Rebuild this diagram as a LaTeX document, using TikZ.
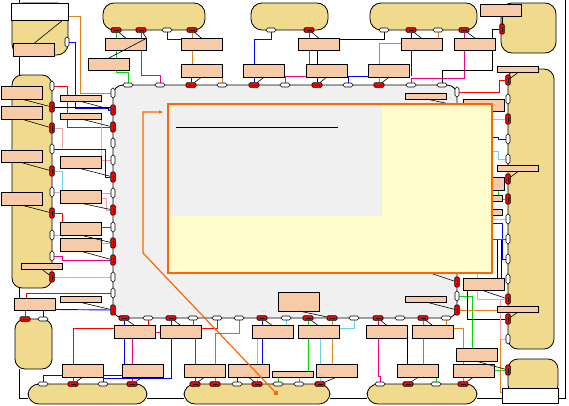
\documentclass[tikz,border=0pt]{standalone}
\usepackage{tikz}
\usetikzlibrary{positioning,calc,backgrounds}
\usetikzlibrary{arrows.meta}
\definecolor{podtan}{RGB}{240,218,142}
\definecolor{boxpeach}{RGB}{248,203,168}
\definecolor{panelgray}{RGB}{240,240,240}
\definecolor{noteyellow}{RGB}{255,253,204}
\definecolor{noteorange}{RGB}{255,102,0}
\definecolor{wireorange}{RGB}{225,130,20}
\definecolor{wirecyan}{RGB}{100,215,240}
\definecolor{wirepink}{RGB}{245,160,175}
\definecolor{wiregreen}{RGB}{0,220,0}
\tikzset{
	pod/.style={draw, fill=podtan, line width=0.8pt, rounded corners=11pt},
	panel/.style={draw, fill=panelgray, line width=0.8pt, rounded corners=10pt},
	whitecap/.style={draw, fill=white, line width=0.8pt, inner sep=0pt, outer sep=0pt},
	module/.style={draw, fill=boxpeach, line width=0.8pt, minimum width=41pt, minimum height=12.5pt, inner sep=0pt, outer sep=0pt},
	slim/.style={module, minimum height=6pt},
	wport/.style={draw, fill=white, line width=0.6pt, rounded corners=1.8pt, minimum width=10pt, minimum height=4pt, inner sep=0pt},
	wportv/.style={wport, minimum width=4pt, minimum height=10pt},
	rport/.style={draw, fill=red, line width=0.6pt, rounded corners=1pt, minimum width=10pt, minimum height=4.5pt, inner sep=0pt,
		path picture={\draw[line width=0.7pt] ([xshift=-2.5pt]path picture bounding box.center) -- ([xshift=2.5pt]path picture bounding box.center);}},
	rportv/.style={draw, fill=red, line width=0.6pt, rounded corners=1pt, minimum width=4.5pt, minimum height=10pt, inner sep=0pt,
		path picture={\draw[line width=0.7pt] ([yshift=-2.5pt]path picture bounding box.center) -- ([yshift=2.5pt]path picture bounding box.center);}},
	wire/.style={line width=0.9pt},
	wblue/.style={wire, draw=blue},
	wred/.style={wire, draw=red},
	wgreen/.style={wire, draw=wiregreen},
	wmag/.style={wire, draw=magenta},
	wcyan/.style={wire, draw=wirecyan},
	wpink/.style={wire, draw=wirepink},
	worange/.style={wire, draw=wireorange},
	assoc/.style={line width=0.6pt},
	note/.style={draw=noteorange, fill=noteyellow, line width=2pt},
	pointer/.style={draw=noteorange, line width=1.2pt, -{Latex[length=4pt,width=4pt]}},
}

\begin{document}
\begin{tikzpicture}[x=1pt, y=-1pt]
	\useasboundingbox (0,0) rectangle (569,405);
	
	% White caps on two pods
	\node[whitecap, minimum width=57pt, minimum height=17pt] (tlw) at (39.5,11.5) {};
	\node[whitecap, minimum width=56pt, minimum height=15pt] (brw) at (530,395.5) {};
	
	% Top modules
	\node[module] (mA) at (126,44.5) {};
	\node[module] (mB) at (108.5,64.5) {};
	\node[module] (mC) at (201.5,44.5) {};
	\node[module] (mD) at (201.5,71) {};
	\node[module] (mE) at (264,71) {};
	\node[module] (mF) at (319,44.5) {};
	\node[module] (mG) at (326.5,71) {};
	\node[module] (mH) at (389,71) {};
	\node[module] (mI) at (421.5,44.5) {};
	\node[module] (mJ) at (475,44.5) {};
	\node[module] (mK) at (501,10.5) {};
	\node[module] (mL) at (33.5,50) {};
	
	% Left pod modules
	\node[module] (lA) at (22,93) {};
	\node[module] (lB) at (22,113) {};
	\node[module] (lC) at (22,156.5) {};
	\node[module] (lD) at (22,199) {};
	\node[slim] (lE) at (41.5,266) {};
	\node[module] (lF) at (35,304.5) {};
	
	% Inner left column
	\node[slim] (iA) at (81,98.5) {};
	\node[slim] (iB) at (81,116) {};
	\node[module] (iC) at (81,162.5) {};
	\node[module] (iD) at (81,197) {};
	\node[module] (iE) at (81,229) {};
	\node[module] (iF) at (81,245) {};
	\node[slim] (iG) at (81,299.5) {};
	
	% Modules inside the panel
	\node[slim] (gA) at (426,96) {};
	\node[module] (gB) at (483.5,105.5) {};
	\node[module] (gC) at (483.5,184) {};
	\node[slim] (gD) at (481.5,198) {};
	\node[slim] (gE) at (481.5,212) {};
	\node[module] (gF) at (483.5,284.5) {};
	\node[slim] (gG) at (426,299) {};
	\node[module, minimum height=19pt] (gH) at (299,301.5) {};
	
	% Right pod modules
	\node[slim] (rA) at (518,69.5) {};
	\node[slim] (rB) at (518,168.5) {};
	\node[slim] (rC) at (518,309) {};
	
	% Below the panel
	\node[module] (nA) at (135,332) {};
	\node[module] (nB) at (181,332) {};
	\node[module] (nC) at (272.5,332) {};
	\node[module] (nD) at (318.5,332) {};
	\node[module] (nE) at (387,332) {};
	\node[module] (nF) at (433,332) {};
	\node[module] (qA) at (82.5,371) {};
	\node[module] (qB) at (142.5,371) {};
	\node[module] (qC) at (204.5,371) {};
	\node[module] (qD) at (248.5,371) {};
	\node[slim] (qE) at (293,374) {};
	\node[module] (qF) at (336.5,371) {};
	\node[module] (qG) at (418,371) {};
	\node[module] (qH) at (473.5,371) {};
	\node[module] (qI) at (476.5,355) {};
	
	% Ports of the top pods
	\foreach \x/\s in {116/rport,141/rport,167/wport,192/rport,271/wport,309/rport,384/wport,411/rport,438/wport,464/rport}
		\node[\s] (t\x) at (\x,30) {};
	\node[wportv] (tlp) at (67,42) {};
	\node[rportv] (trp) at (502,29) {};
	
	% Ports of the panel
	\foreach \x/\s in {128/wport,160/wport,191/rport,222/wport,254/rport,285/wport,317/rport,348/wport,379/rport,411/wport,442/wport}
		\node[\s] (gt\x) at (\x,85) {};
	\foreach \y/\s in {93/wportv,110/rportv,127/rportv,143/wportv,160/wportv,177/rportv,193/wportv,210/rportv,227/wportv,243/rportv,260/rportv,277/wportv,293/wportv,310/rportv}
		\node[\s] (gl\y) at (113,\y) {};
	\foreach \x/\s in {124/rport,148/wport,171/rport,193/wport,217/wport,239/wport,262/rport,286/wport,308/rport,332/rport,354/wport,378/rport,400/wport,423/rport,446/wport}
		\node[\s] (gb\x) at (\x,318) {};
	\foreach \y/\s in {92/wportv,282/rportv,296/wportv,310/rportv}
		\node[\s] (gr\y) at (457,\y) {};
	
	% Ports of the left pods
	\foreach \y/\s in {86/wportv,107/rportv,128/rportv,149/wportv,171/rportv,192/wportv,213/rportv,235/wportv,256/wportv,277/rportv}
		\node[\s] (l\y) at (52,\y) {};
	\node[rport] (s25) at (25,319) {};
	\node[wport] (s43) at (43,319) {};
	
	% Ports of the bottom pods
	\foreach \x/\s in {43/wport,73/rport,103/wport,132/rport,195/rport,215/rport,237/wport,257/rport,278/wport,299/wport,320/rport,380/wport,408/rport,436/wport,463/rport}
		\node[\s] (b\x) at (\x,384) {};
	
	% Ports of the right pods
	\foreach \y/\s in {80/rportv,99/wportv,119/rportv,139/wportv,159/wportv,179/rportv,199/rportv,219/wportv,239/wportv,259/wportv,279/wportv,299/rportv,319/rportv,339/wportv}
		\node[\s] (r\y) at (508,\y) {};
	\node[rportv] (brp) at (508,370) {};
	
	\begin{scope}[on background layer]
		% Pods and panel
		\draw[pod] (12,3) rectangle (68,55);
		\draw[pod] (103,3) rectangle (205,30);
		\draw[pod] (251,3) rectangle (328,30);
		\draw[pod] (370,3) rectangle (477,30);
		\draw[pod] (501,3) rectangle (556,53);
		\draw[pod, rounded corners=10pt] (12,75) rectangle (52,288);
		\draw[pod, rounded corners=10pt] (15,319) rectangle (52,369);
		\draw[pod] (28,384) rectangle (147,404);
		\draw[pod] (184,384) rectangle (330,404);
		\draw[pod] (367,384) rectangle (477,404);
		\draw[pod, rounded corners=10pt] (508,69) rectangle (554,349);
		\draw[pod, rounded corners=10pt] (508,359) rectangle (558,395);
		\draw[panel] (113,85) rectangle (457,318);
		
		% Chain round the frame
		\draw[wire] (19,0) -- (19,3);
		\draw[wire] (19,56) -- (19,75);
		\draw[wire] (19,288) -- (19,298);
		\draw[wire] (19,369) |- (28,398);
		\draw[wire] (147,398) -- (184,398);
		\draw[wire] (330,398) -- (367,398);
		\draw[wire] (477,398) -- (502,398);
		\draw[wire] (558,398) -| (565,0);
		
		% Top pods to top modules
		\draw[wgreen] (t116) -- (t116 |- mA.north);
		\draw[wgreen] (mA.south -| t116) |- (128,72) -- (gt128);
		\draw[wmag] (t141) -- (t141 |- mA.north);
		\draw[wmag] (mA.south -| t141) |- (160,75) -- (gt160);
		\draw[wblue] (t167) |- ([yshift=-1pt]mC.north west);
		\draw[worange] (t192) -- (t192 |- mC.north);
		\draw[worange] (mC.south -| t192) -- (mD.north -| t192);
		\draw[wblue] (mD.south -| gt191) -- (gt191);
		\draw[worange] (mD.south east) -- (gt222);
		\draw[wblue] (t271) |- (254,39) -- (mE.north -| gt254);
		\draw[wblue] (mE.south -| gt254) -- (gt254);
		\draw[wmag] (t309) -- (t309 |- mF.north);
		\draw[wmag] (mF.south -| t309) -- (mG.north -| t309);
		\draw[wmag] ([yshift=-5pt]mG.west) -| (gt285);
		\draw[wire] ([yshift=5.5pt]mF.east) -| (t384);
		\draw[wire] (mF.south -| gt317) -- (mG.north -| gt317);
		\draw[wire] (mG.south -| gt317) -- (gt317);
		\draw[wblue] (gt348) |- ([yshift=-5pt]mH.west);
		\draw[worange] ([yshift=1.5pt]mI.west) -| (mH.north -| gt379);
		\draw[worange] (mH.south -| gt379) -- (gt379);
		\draw[worange] (t438) -- (t438 |- mI.north);
		\draw[wblue] (t411) -- (t411 |- mI.north);
		\draw[wblue] (mI.south -| t411) -- (411,76);
		\draw[wmag] (t464) -- (t464 |- mJ.north);
		\draw[wmag] (mJ.south -| t464) |- (411,78) -- (gt411);
		\draw[wmag] (442,78) -- (gt442);
		\draw[wire] (trp) -| (492,70) -| (gt442);
		\draw[wire] (mK.south -| trp) -- (trp);
		
		% Top-left pod and left column
		\draw[worange] ([yshift=-4.5pt]tlw.east) -| (80,93) -- (gl93);
		\draw[wblue] (tlp) -| (75,108) -| (108,110) -- (gl110);
		\draw[wred] (l86) -| (67,127) -- (gl127);
		\draw[wire] (l107) -- (l107 -| gl110);
		\draw[wpink] (l128) -| (62,148);
		\draw[wpink] (iB.south east) |- (gl160);
		\draw[wblue] (l149) -| (105,177) -- (gl177);
		\draw[wcyan] (l171) -| ([xshift=2pt]iD.north west);
		\draw[wpink] (l192) -- (l192 -| iD.west);
		\draw[wcyan] ([yshift=4pt]iD.east) -- (gl193);
		\draw[wpink] ([yshift=-1pt]iD.east) -| (106,210) -- (gl210);
		\draw[wred] (l213) -| ([xshift=2pt]iE.north west);
		\draw[wred] ([yshift=2pt]iE.east) -- (gl227);
		\draw[wcyan] (l235) -| ([xshift=2pt]iF.north west);
		\draw[wcyan] ([yshift=2pt]iF.east) -- (gl243);
		\draw[wmag] (l256) -| (62,260) -- (gl260);
		\draw[wcyan] (l277) -- (gl277);
		\draw[wred] ([xshift=-9pt]lF.north) |- (gl293);
		\draw[wred] (s25) -- (s25 |- lF.south);
		\draw[wblue] (s43) -- (s43 |- lF.south);
		\draw[wblue] ([yshift=-5pt]lF.east) -- (gl310);
		
		% Below the panel
		\draw[wblue] (gb124) -- (gb124 |- nA.north);
		\draw[wred] (gb148) -- (gb148 |- nA.north);
		\draw[wblue] (gb171) -- (gb171 |- nB.north);
		\draw[wmag] (gb193) -- (gb193 |- nB.north);
		\draw[wmag] (nA.east) -- (nB.west);
		\draw[wred] ([yshift=4pt]nA.west) -| (qA.north -| b73);
		\draw[wred] (qA.south -| b73) -- (b73);
		\draw[wblue] (nA.south -| gb124) -- (qB.north -| gb124);
		\draw[wmag] (nA.south -| b132) -- (qB.north -| b132);
		\draw[wmag] (qB.south -| b132) -- (b132);
		\draw[wblue] (b43) |- ([yshift=-4pt]qB.west);
		\draw[wblue] (nB.south -| gb171) |- (103,378.5) -- (b103);
		\draw[wred] (gb217) |- ([yshift=4pt]nB.east);
		\draw[wred] (nB.south -| b195) -- (qC.north -| b195);
		\draw[wred] (qC.south -| b195) -- (b195);
		\draw[wgreen] (gb239) |- (215,333) -- (qC.north -| b215);
		\draw[wgreen] (qC.south -| b215) -- (b215);
		\draw[wblue] (gb262) -- (gb262 |- nC.north);
		\draw[wcyan] (gb286) -- (gb286 |- nC.north);
		\draw[wcyan] (nC.south -| b257) -- (qD.north -| b257);
		\draw[wblue] (nC.south -| gb262) -- (qD.north -| gb262);
		\draw[wblue] (qD.south -| b237) -- (b237);
		\draw[wcyan] (qD.south -| b257) -- (b257);
		\draw[wgreen] (gb308) -- (gb308 |- nD.north);
		\draw[wgreen] (nD.south -| gb308) -- (qE.north -| gb308);
		\draw[wgreen] (qE.south -| b278) -- (b278);
		\draw[worange] (qE.south -| b299) -- (b299);
		\draw[worange] (gb332) -- (gb332 |- nD.north);
		\draw[worange] (nD.south -| gb332) -- (qF.north -| gb332);
		\draw[wcyan] (nD.south -| b320) -- (qF.north -| b320);
		\draw[wcyan] (qF.south -| b320) -- (b320);
		\draw[wcyan] (gb354) |- ([yshift=4pt]nD.east);
		\draw[wmag] (gb378) -- (gb378 |- nE.north);
		\draw[wmag] (nE.south -| gb378) |- (380,376) -- (b380);
		\draw[wire] (nE.south east) -- (nE.south east |- qG.north);
		\draw[wgreen] (gb423) -- (gb423 |- nF.north);
		\draw[wgreen] (nF.south -| gb423) -- (qG.north -| gb423);
		\draw[wgreen] (qG.south -| b436) -- (b436);
		\draw[worange] (gb446) -- (gb446 |- nF.north);
		\draw[worange] ([yshift=4pt]nF.east) -| (b463);
		
		% Right side of the panel
		\draw[wgreen] (gr296) -| ([xshift=-4.5pt]qI.north);
		\draw[wgreen] ([yshift=1pt]qH.east) -- (brp);
		\draw[worange] (gr310) -| (500,392) -- ([yshift=3.5pt]brw.west);
		\draw[wire] ([xshift=-16.5pt]gF.south) |- (r319);
		\draw[wpink] (477,273) |- (r299);
		\draw[wpink] (500,299) |- (r339);
		\draw[wire] (497,240) -- (497,279);
		\draw[wire] (501,240) -- (501,279);
		\draw[wred] (gr92) -| (499,80) -- (r80);
		\draw[wpink] (492,119) -- (r119);
		\draw[wblue] (492,137) -| (498,139) -- (r139);
		\draw[wcyan] (492,151) -| (498,159) -- (r159);
		\draw[wgreen] ([xshift=14.5pt]gC.south) |- (r199);
		\draw[wpink] (492,219) -- (r219);
		\draw[wblue] (492,223) -| (502,259) -- (r259);
		\draw[wred] (492,239) -- (r239);
	\end{scope}
	
	% Lines from modules to their ports
	\draw[assoc] (mL.north) -- ([xshift=-5pt]tlw.south east);
	\draw[assoc] (mB.north) -- (mA.north east);
	\draw[assoc] (t141) -- (mA.north east);
	\foreach \p/\m in {t116/mA,t192/mC,t309/mF,t411/mI,t464/mJ,gb124/nA,gb171/nB,gb262/nC,gb308/nD,gb378/nE,gb423/nF}
		\draw[assoc] (\p) -- (\m.north);
	\foreach \m/\p in {lA/l107,lB/l128,lC/l171,lD/l213,lE/l277,iA/gl110,iB/gl127,iC/gl177,iD/gl210,iE/gl243,iF/gl260,iG/gl310,mD/gt191,mE/gt254,mG/gt317,mH/gt379,rA/r80,rB/r179,rC/r319,gF/r299,gG/gr310,gH/gb332,qI/brp,qA/b73,qB/b132,qC/b195,qD/b257,qF/b320,qG/b408,qH/b463}
		\draw[assoc] (\m.south) -- (\p);
	\draw[assoc] (gA.south) -- (450,104);
	\draw[assoc] (430,273) -- (gr282);
	
	% Note over the panel
	\draw[note] (168,104) rectangle (492,273);
	\fill[panelgray] (169,105) rectangle (382,216);
	\draw[line width=0.8pt] (176,127) -- (338,127);
	\node[fill=noteorange, minimum size=3.5pt, inner sep=0pt] (tip) at (276,393) {};
	\draw[pointer] (tip.center) -- (143,253) -- (143,112) -- (163,112);
	
\end{tikzpicture}
\end{document}
